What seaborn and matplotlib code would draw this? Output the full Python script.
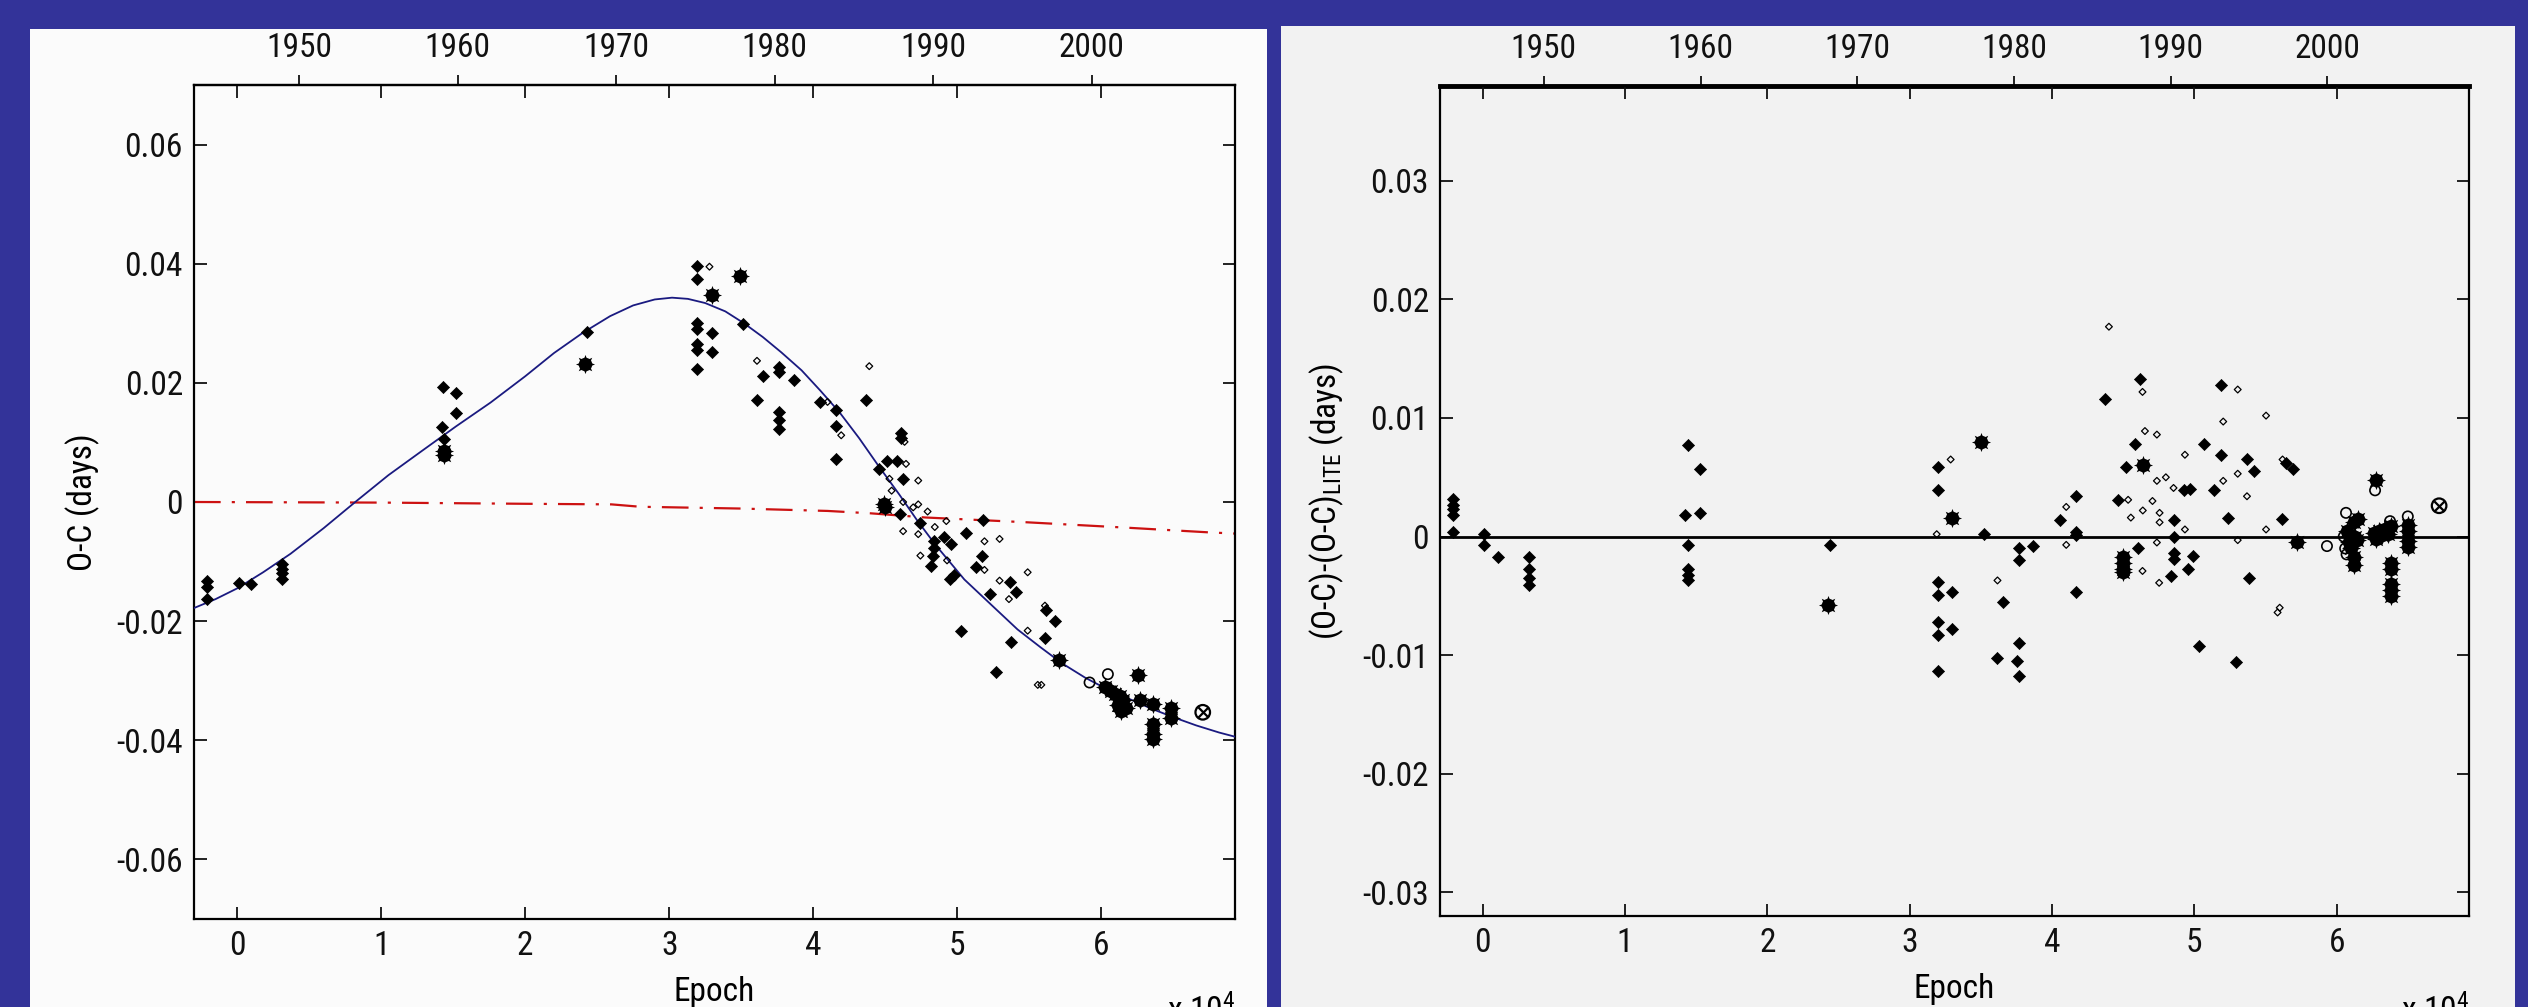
import matplotlib
matplotlib.use("Agg")
import matplotlib.pyplot as plt
from matplotlib import font_manager
from matplotlib.patches import Rectangle
import pandas as pd
import seaborn as sns

# period / zero epoch used for the year axis on top
P_DAYS = 0.3317
YEAR0 = 1946.1

# ---- left panel: O-C (epoch, days) ----
oc_diamond = [(-2100, -0.0133), (-2100, -0.0143), (-2100, -0.0163), (100, -0.0136), (970, -0.0138),
              (3100, -0.0104), (3100, -0.0112), (3100, -0.0120), (3100, -0.0129),
              (14300, 0.0193), (15200, 0.0183), (15200, 0.0150), (14200, 0.0126), (14350, 0.0106),
              (24300, 0.0286), (31950, 0.0396), (31950, 0.0375), (31950, 0.0300), (31950, 0.0291),
              (31950, 0.0266), (31950, 0.0255), (31950, 0.0224), (32950, 0.0283), (32950, 0.0252),
              (35150, 0.0298), (36500, 0.0211), (36100, 0.0172), (37600, 0.0227), (37600, 0.0218),
              (37600, 0.0151), (37600, 0.0138), (37600, 0.0122), (38650, 0.0204), (40450, 0.0168),
              (41600, 0.0155), (41600, 0.0127), (41600, 0.0073), (43650, 0.0171), (46100, 0.0115),
              (46100, 0.0108), (44600, 0.0056), (45100, 0.0069), (45800, 0.0069), (46250, 0.0039),
              (46000, -0.0020), (47400, -0.0035), (48400, -0.0065), (48400, -0.0078), (48300, -0.0090),
              (48200, -0.0107), (49100, -0.0058), (49600, -0.0070), (49500, -0.0129), (49800, -0.0123),
              (50600, -0.0052), (51800, -0.0030), (51750, -0.0090), (51300, -0.0109), (52250, -0.0154),
              (50300, -0.0216), (52700, -0.0286), (53650, -0.0135), (54100, -0.0151), (53750, -0.0235),
              (56200, -0.0182), (56800, -0.0200), (56100, -0.0228)]
oc_small = [(32800, 0.0395), (36100, 0.0237), (41000, 0.0168), (41950, 0.0112), (43900, 0.0228),
            (46350, 0.0101), (46450, 0.0064), (45300, 0.0039), (47300, 0.0036), (45450, 0.0019),
            (46250, 0.0000), (46950, -0.0009), (47300, -0.0004), (47950, -0.0016), (46250, -0.0049),
            (48450, -0.0042), (47300, -0.0054), (49250, -0.0032), (47450, -0.0090), (49300, -0.0098),
            (51900, -0.0066), (52950, -0.0062), (51900, -0.0114), (52950, -0.0132), (53600, -0.0163),
            (54900, -0.0118), (54900, -0.0216), (56100, -0.0174), (55600, -0.0307), (55850, -0.0307)]
oc_big = [(14350, 0.0085), (14350, 0.0079), (24150, 0.0232), (32950, 0.0347), (34900, 0.0379),
          (44970, -0.0009), (44900, -0.0003), (57050, -0.0266), (62550, -0.0291),
          (60300, -0.0310), (60700, -0.0318), (61000, -0.0322), (61300, -0.0326), (61500, -0.0332),
          (61200, -0.0340), (61700, -0.0345), (61400, -0.0350), (62700, -0.0333), (63600, -0.0339),
          (63600, -0.0373), (63600, -0.0389), (63600, -0.0398), (64850, -0.0345), (64850, -0.0362)]
oc_circle = [(59200, -0.0303), (60470, -0.0289)]
oc_cross = [(67060, -0.0353)]

# LITE fit + ephemeris (solid) and quadratic term (dash-dot)
lite_fit = [(-3000, -0.0178), (-1500, -0.0163), (0, -0.0145), (1800, -0.0118), (3700, -0.0087),
            (6000, -0.0044), (8200, 0.0), (10500, 0.0045), (12900, 0.0087), (15200, 0.0127),
            (17600, 0.0167), (20000, 0.0211), (22000, 0.0250), (24000, 0.0284), (25900, 0.0312),
            (27500, 0.0330), (29000, 0.0340), (30200, 0.0343), (31300, 0.0341), (32500, 0.0334),
            (33900, 0.0320), (35200, 0.0300), (36500, 0.0277), (37800, 0.0251), (39200, 0.0221),
            (40500, 0.0187), (41850, 0.0150), (43200, 0.0107), (44500, 0.0062), (46000, 0.0012),
            (47200, -0.0030), (48500, -0.0072), (50500, -0.0130), (52700, -0.0180), (54200, -0.0214),
            (55800, -0.0244), (57300, -0.0271), (58900, -0.0295), (60400, -0.0314), (62000, -0.0331),
            (63500, -0.0347), (65100, -0.0362), (66600, -0.0375), (68200, -0.0387), (69300, -0.0394)]
quad_term = [(-3000, 0.0), (10000, -0.0001), (20000, -0.0003), (26000, -0.0004), (28000, -0.0008),
             (35000, -0.0011), (41000, -0.0015), (44000, -0.0019), (47800, -0.0026), (54800, -0.0034),
             (61700, -0.0043), (67500, -0.0051), (69300, -0.0053)]

# ---- right panel: residuals (epoch, days) ----
res_diamond = [(-2080, 0.0032), (-2080, 0.0027), (-2080, 0.0023), (-2080, 0.0018), (-2080, 0.0004),
               (70, 0.0002), (70, -0.0007), (1070, -0.0017), (3220, -0.0017), (3220, -0.0027),
               (3220, -0.0035), (3220, -0.0041), (14390, 0.0077), (15250, 0.0057), (14180, 0.0018),
               (15250, 0.0020), (14390, -0.0007), (14390, -0.0027), (14390, -0.0032), (14390, -0.0037),
               (24400, -0.0007), (32020, 0.0059), (32020, 0.0039), (35200, 0.0002), (32020, -0.0038),
               (32020, -0.0049), (33000, -0.0047), (32020, -0.0072), (32020, -0.0083), (33000, -0.0078),
               (32020, -0.0113), (36560, -0.0055), (36170, -0.0102), (37690, -0.0010), (37690, -0.0020),
               (38700, -0.0008), (37690, -0.0090), (37520, -0.0105), (37690, -0.0118), (40550, 0.0014),
               (41720, 0.0034), (41720, 0.0004), (41720, 0.0001), (41720, -0.0047), (43710, 0.0116),
               (46200, 0.0133), (45840, 0.0078), (45190, 0.0059), (44650, 0.0031), (46010, -0.0010),
               (48540, 0.0014), (48600, 0.0000), (48540, -0.0014), (48540, -0.0019), (49880, -0.0016),
               (49530, -0.0027), (48350, -0.0033), (49250, 0.0039), (49710, 0.0040), (50650, 0.0078),
               (51360, 0.0039), (51870, 0.0128), (51870, 0.0069), (52340, 0.0016), (50340, -0.0092),
               (52900, -0.0106), (53700, 0.0065), (54210, 0.0055), (56440, 0.0062), (56900, 0.0057),
               (56160, 0.0015), (53860, -0.0035)]
res_small = [(32880, 0.0065), (31900, 0.0002), (36170, -0.0037), (41000, 0.0025), (41000, -0.0007),
             (44000, 0.0177), (46360, 0.0122), (46530, 0.0089), (47370, 0.0086), (45350, 0.0031),
             (45540, 0.0016), (46380, 0.0022), (47060, 0.0030), (47370, 0.0047), (48000, 0.0050),
             (47560, 0.0020), (47560, 0.0012), (48540, 0.0041), (49340, 0.0069), (49340, 0.0006),
             (47370, -0.0005), (46360, -0.0029), (47530, -0.0039), (52030, 0.0097), (53050, 0.0124),
             (55040, 0.0102), (53050, 0.0053), (52030, 0.0047), (53700, 0.0034), (55040, 0.0006),
             (53050, -0.0003), (55850, -0.0064), (56000, -0.0060), (56200, 0.0065)]
res_big = [(35000, 0.0080), (33000, 0.0016), (24270, -0.0058), (45000, -0.0017), (45000, -0.0022),
           (45000, -0.0027), (45000, -0.0030), (46360, 0.0060), (57210, -0.0005),
           (60700, 0.0005), (60900, -0.0005), (61000, -0.0010), (61200, 0.0012), (61200, -0.0017),
           (61300, 0.0000), (61400, -0.0003), (61200, -0.0024), (61480, 0.0015), (62770, 0.0048),
           (62600, 0.0003), (62800, -0.0002), (63000, 0.0005), (63200, 0.0001), (63400, 0.0006),
           (63600, 0.0002), (63800, 0.0009), (63830, -0.0022), (63830, -0.0027), (63830, -0.0040),
           (63830, -0.0045), (63830, -0.0050), (65000, 0.0010), (65000, 0.0005), (65000, -0.0004),
           (65000, -0.0009)]
res_circle = [(59320, -0.0008), (60660, 0.0020), (60500, 0.0000), (60600, -0.0010), (60700, -0.0015),
              (62700, 0.0039), (63750, 0.0013), (65000, 0.0017)]
res_cross = [(67200, 0.0026)]

x_ticks = [0, 10000, 20000, 30000, 40000, 50000, 60000]
x_labels = ["0", "1", "2", "3", "4", "5", "6"]
year_ticks = [1950, 1960, 1970, 1980, 1990, 2000]
oc_ticks = [-0.06, -0.04, -0.02, 0, 0.02, 0.04, 0.06]
oc_labels = ["-0.06", "-0.04", "-0.02", "0", "0.02", "0.04", "0.06"]
res_ticks = [-0.03, -0.02, -0.01, 0, 0.01, 0.02, 0.03]
res_labels = ["-0.03", "-0.02", "-0.01", "0", "0.01", "0.02", "0.03"]

# look for a narrow sans face (the original uses a condensed font)
FONT, STRETCH, FS = "Liberation Sans", "normal", 21
for f in font_manager.fontManager.ttflist:
    if f.style != "normal" or f.weight not in (400, "normal", "regular"):
        continue
    if f.name in ("Liberation Sans Narrow", "Roboto Condensed", "Open Sans Condensed"):
        FONT, STRETCH, FS = f.name, "normal", 24
        break
    if f.stretch in ("condensed", "semi-condensed") and f.name in ("DejaVu Sans", "Noto Sans", "Open Sans",
                                                                      "Roboto", "Liberation Sans"):
        FONT, STRETCH, FS = f.name, f.stretch, 24
plt.rcParams["font.family"] = [FONT, "DejaVu Sans"]
plt.rcParams["font.stretch"] = STRETCH
plt.rcParams["mathtext.fontset"] = "custom"
plt.rcParams["mathtext.rm"] = FONT
plt.rcParams["mathtext.it"] = FONT

W, H = 2528, 1007
fig = plt.figure(figsize=(W / 100, H / 100), dpi=100, facecolor="#333399")


def px_box(x0, y0, x1, y1):
    return [x0 / W, 1 - y1 / H, (x1 - x0) / W, (y1 - y0) / H]


fig.add_artist(Rectangle((30 / W, 0), (1267 - 30) / W, 1 - 29 / H, transform=fig.transFigure,
                         facecolor="#fbfbfb", edgecolor="none", zorder=-10))
fig.add_artist(Rectangle((1281 / W, 0), (2515 - 1281) / W, 1 - 26 / H, transform=fig.transFigure,
                         facecolor="#f2f2f2", edgecolor="none", zorder=-10))

ax1 = fig.add_axes(px_box(194, 85, 1235, 919), facecolor="#fbfbfb")
ax2 = fig.add_axes(px_box(1440, 86, 2469, 916), facecolor="#f2f2f2")


def df(pairs):
    return pd.DataFrame(pairs, columns=["epoch", "val"])


def draw_points(ax, diamond, small, big, circle, cross):
    # big spiky dots: filled disc + 8-point star
    sns.scatterplot(data=df(big), x="epoch", y="val", marker="o", s=95, color="black",
                    edgecolor="black", linewidth=0, ax=ax, zorder=4)
    sns.scatterplot(data=df(big), x="epoch", y="val", marker=(8, 1, 0), s=190, color="black",
                    edgecolor="black", linewidth=0, ax=ax, zorder=4)
    sns.scatterplot(data=df(diamond), x="epoch", y="val", marker="D", s=38, color="black",
                    edgecolor="black", linewidth=0.5, ax=ax, zorder=5)
    sns.scatterplot(data=df(small), x="epoch", y="val", marker="D", s=12, facecolor="none",
                    edgecolor="black", linewidth=0.9, ax=ax, zorder=5)
    sns.scatterplot(data=df(circle), x="epoch", y="val", marker="o", s=55, facecolor="none",
                    edgecolor="black", linewidth=1.2, ax=ax, zorder=5)
    sns.scatterplot(data=df(cross), x="epoch", y="val", marker="o", s=110, facecolor="none",
                    edgecolor="black", linewidth=1.6, ax=ax, zorder=5)
    sns.scatterplot(data=df(cross), x="epoch", y="val", marker="x", s=55, color="black",
                    linewidth=1.6, ax=ax, zorder=5)


# left: O-C diagram
sns.lineplot(data=df(quad_term), x="epoch", y="val", color="#cc1111", lw=1.6,
             linestyle=(0, (12, 5, 1.4, 5)), errorbar=None, ax=ax1, zorder=2)
sns.lineplot(data=df(lite_fit), x="epoch", y="val", color="#1a1a80", lw=1.3,
             errorbar=None, ax=ax1, zorder=3)
draw_points(ax1, oc_diamond, oc_small, oc_big, oc_circle, oc_cross)

# right: residuals
ax2.axhline(0, color="black", lw=2.0, zorder=2)
draw_points(ax2, res_diamond, res_small, res_big, res_circle, res_cross)


def e2y(e):
    return YEAR0 + e * P_DAYS / 365.25


def y2e(y):
    return (y - YEAR0) * 365.25 / P_DAYS


for ax, yt, yl, ylim in [(ax1, oc_ticks, oc_labels, (-0.07, 0.07)),
                         (ax2, res_ticks, res_labels, (-0.032, 0.038))]:
    ax.set_xlim(-3000, 69300)
    ax.set_ylim(*ylim)
    ax.set_xticks(x_ticks, x_labels)
    ax.set_yticks(yt, yl)
    ax.tick_params(direction="in", length=9, width=1.3, top=True, right=True,
                   labelsize=FS, pad=8, colors="#111111")
    for sp in ax.spines.values():
        sp.set_linewidth(1.6)
    ax.set_xlabel("Epoch", fontsize=FS, labelpad=10)
    sec = ax.secondary_xaxis("top", functions=(e2y, y2e))
    sec.set_xticks(year_ticks, [str(y) for y in year_ticks])
    sec.tick_params(direction="out", length=7, width=1.3, labelsize=FS, pad=8, colors="#111111")
    sec.spines["top"].set_linewidth(1.6 if ax is ax1 else 3.5)
    right_px = 1235 if ax is ax1 else 2469
    fig.text(right_px / W, -14 / H, "x 10$^{4}$", fontsize=FS, ha="right", va="baseline")

ax1.set_ylabel("O-C (days)", fontsize=FS, labelpad=12)
ax2.set_ylabel("(O-C)-(O-C)$_{\\rm LITE}$ (days)", fontsize=FS, labelpad=12)

fig.savefig("out.png", dpi=100, facecolor=fig.get_facecolor())
